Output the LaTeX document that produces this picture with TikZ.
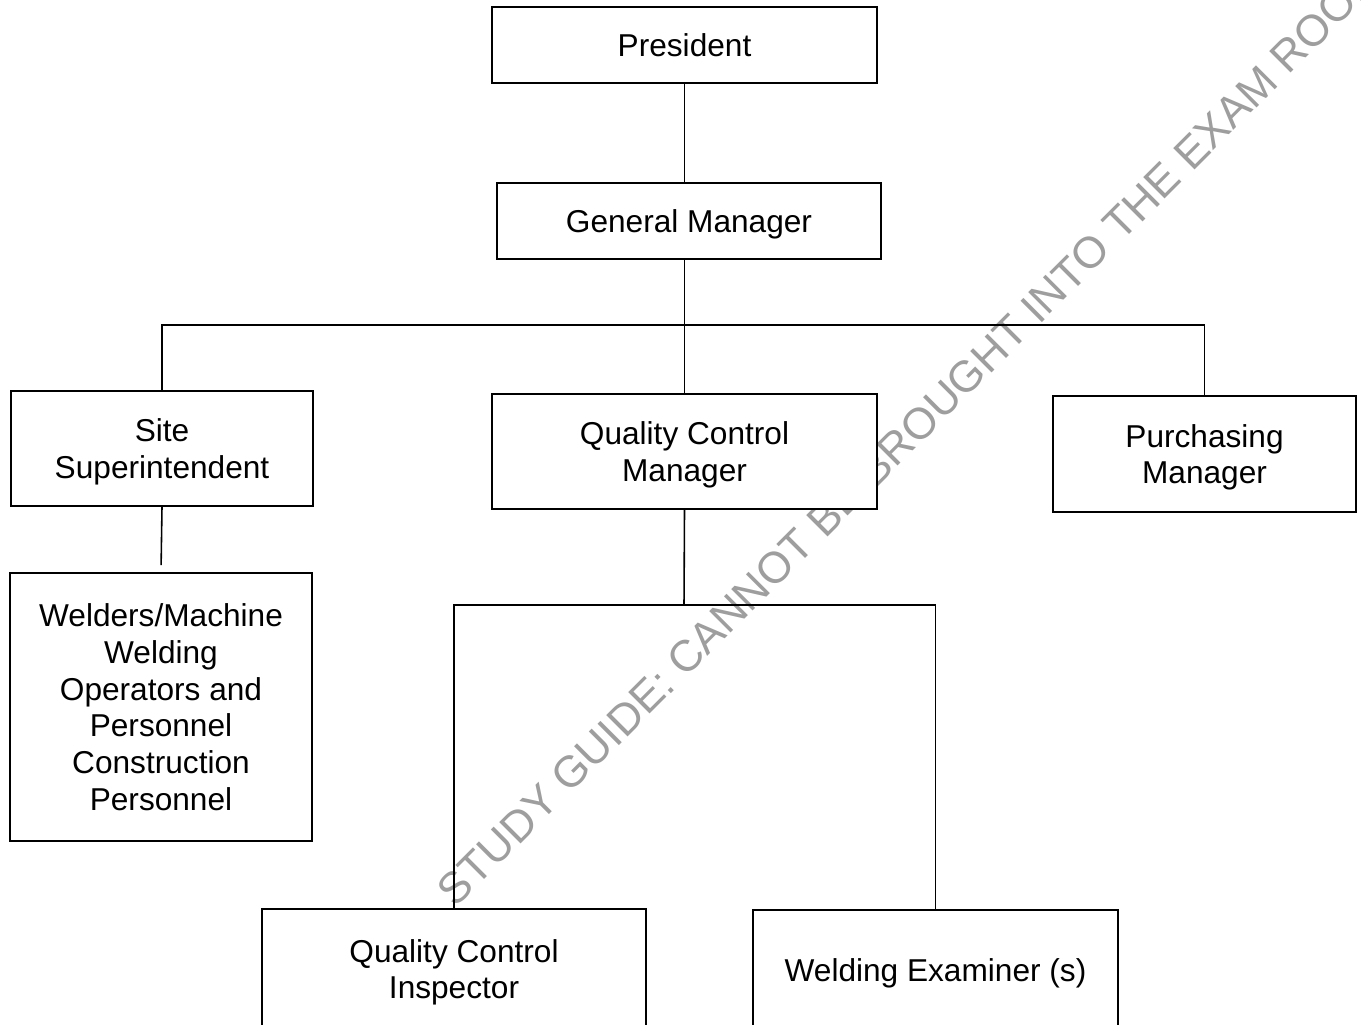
\documentclass[tikz,border=0pt]{standalone}
\usepackage{fontspec}
\setmainfont{Liberation Sans}
\tikzset{
  chart/.style={
    x=0.02cm,
    y=-0.02cm,
    line join=miter
  },
  post/.style={
    draw=black,
    fill=white,
    line width=1.1pt,
    align=center,
    inner sep=0pt,
    text depth=0pt,
    font=\fontsize{18}{21}\selectfont
  },
  link/.style={draw=black, line width=0.9pt},
  stamp/.style={text=black!38, rotate=45, font=\fontsize{25}{28}\selectfont}
}

\begin{document}
\begin{tikzpicture}[chart]
  \clip (0,0) rectangle (1361,1024);
  \fill[white] (0,0) rectangle (1361,1024);
  % watermark (behind everything)
  \node[stamp] (mark) at (910,433) {STUDY GUIDE: CANNOT BE BROUGHT INTO THE EXAM ROOM};
  % top of the chart
  \node[post, minimum width=7.7cm, minimum height=1.52cm] (pres) at (684.5,45) {President};
  \node[post, minimum width=7.68cm, minimum height=1.52cm] (gm) at (689,221) {General Manager};
  % second level
  \node[post, minimum width=6.04cm, minimum height=2.3cm] (ss) at (162,448.5) {Site\\Superintendent};
  \node[post, minimum width=7.7cm, minimum height=2.3cm] (qcm) at (684.5,451.5) {Quality Control\\Manager};
  \node[post, minimum width=6.06cm, minimum height=2.32cm] (pm) at (1204.5,454) {Purchasing\\Manager};
  % third level
  \node[post, minimum width=6.04cm, minimum height=5.36cm] (wm) at (161,707) {Welders/Machine\\Welding\\Operators and\\Personnel\\Construction\\Personnel};
  \node[post, minimum width=7.68cm, minimum height=2.4cm] (qci) at (454,969) {Quality Control\\Inspector};
  \node[post, minimum width=7.3cm, minimum height=2.4cm] (we) at (935.5,970) {Welding Examiner (s)};
  % connectors
  \coordinate (bus) at (684,325);
  \coordinate (split) at (684,605);
  \draw[link] (pres.south) -- (pres.south |- gm.north);
  \draw[link] (gm.south -| pres.south) -- (qcm.north);
  \draw[link] (ss.north) |- (bus) -| (pm.north);
  \draw[link, shorten >=0.14cm] (ss.south) -- (wm.north);
  \draw[link] (qcm.south) -- (split);
  \draw[link] (qci.north) |- (split) -| (we.north);
\end{tikzpicture}
\end{document}
